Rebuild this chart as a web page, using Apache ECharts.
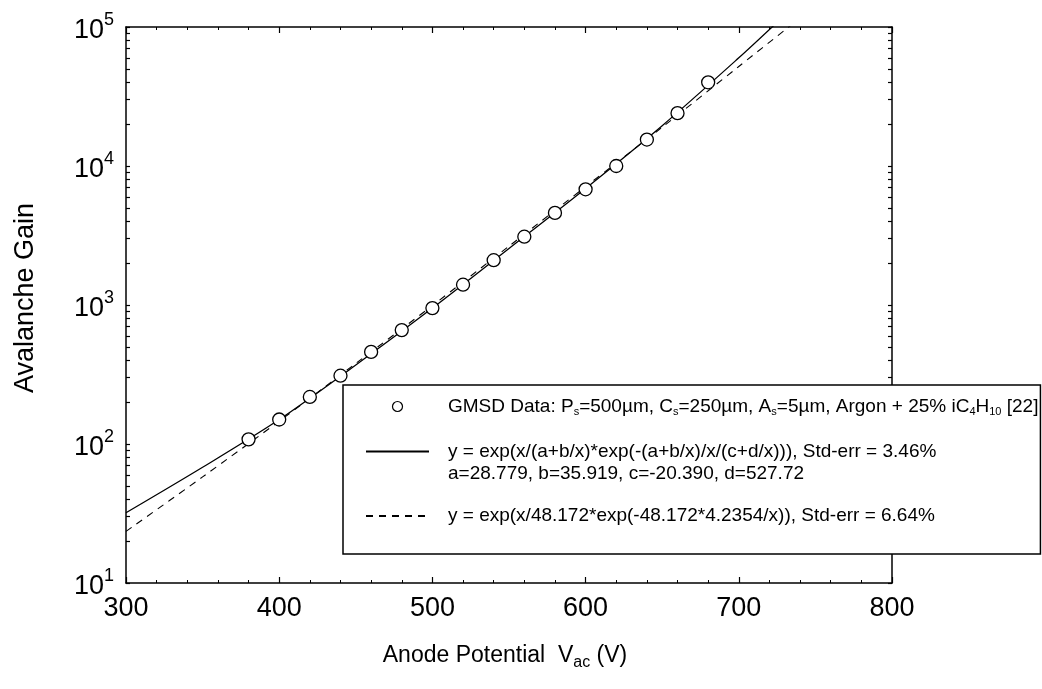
<!DOCTYPE html>
<html>
<head>
<meta charset="utf-8">
<title>Avalanche Gain vs Anode Potential</title>
<script src="https://cdn.jsdelivr.net/npm/echarts@6/dist/echarts.min.js"></script>
<style>
  html, body { margin: 0; padding: 0; background: #fff; }
  #chart { width: 1042px; height: 689px; }
</style>
</head>
<body>
<div id="chart"></div>
<script>
// GMSD measurements (anode potential in V, gain)
var gmsdVolts = [380, 400, 420, 440, 460, 480, 500, 520, 540, 560, 580, 600, 620, 640, 660, 680];
var gmsdGain = [108, 150, 218, 310, 460, 660, 950, 1400, 2100, 3100, 4600, 6800, 10000, 15500, 24000, 40000];

// solid fit curve
var fitVolts = [300, 350, 400, 450, 500, 550, 600, 650, 700, 725];
var fitGain = [32, 68, 150, 370, 950, 2550, 6900, 19500, 60000, 108000];

// dashed fit curve
var expVolts = [300, 350, 400, 450, 500, 550, 600, 650, 700, 735];
var expGain = [23.5, 58, 146, 380, 990, 2650, 7100, 19000, 52000, 105000];

var xTicks = [300, 400, 500, 600, 700, 800];
var yDecades = [10, 100, 1000, 10000, 100000];

var FONT = "'Liberation Sans', Arial, Helvetica, sans-serif";

function pairs(xs, ys) {
  var out = [];
  for (var i = 0; i < xs.length; i++) out.push([xs[i], ys[i]]);
  return out;
}

// log minor ticks 1..9 per decade
var yTickValues = [];
for (var i = 0; i < yDecades.length - 1; i++) {
  for (var k = 1; k < 10; k++) yTickValues.push(yDecades[i] * k);
}
yTickValues.push(yDecades[yDecades.length - 1]);

// blank lines ({sp}, {sp2}) keep the first text line level with the icon
var legendText = {
  data: '{t|GMSD Data: P}{sub|s}{t|=500µm, C}{sub|s}{t|=250µm, A}{sub|s}{t|=5µm, Argon + 25% iC}{sub|4}{t|H}{sub|10}{t| [22]}',
  fit1: '{sp| }\n{t|y = exp(x/(a+b/x)*exp(-(a+b/x)/x/(c+d/x))), Std-err = 3.46%}\n{t|a=28.779, b=35.919, c=-20.390, d=527.72}',
  fit2: '{sp2| }\n{t|y = exp(x/48.172*exp(-48.172*4.2354/x)), Std-err = 6.64%}\n{sp2| }'
};

var xMin = xTicks[0], xMax = xTicks[xTicks.length - 1];
var yMin = yDecades[0], yMax = yDecades[yDecades.length - 1];

function xAxisCfg(pos, showLabel) {
  return {
    type: 'value', position: pos, min: xMin, max: xMax, interval: 100,
    axisLine: { show: true, onZero: false, lineStyle: { color: '#000', width: 1.5 } },
    axisTick: { show: true, inside: true, length: 6, lineStyle: { color: '#000', width: 1.2 } },
    minorTick: { show: true, splitNumber: 5, length: 3, lineStyle: { color: '#000', width: 1 } },
    splitLine: { show: false },
    axisLabel: { show: showLabel, margin: 12, color: '#000', fontFamily: FONT, fontSize: 27 }
  };
}

function yAxisCfg(pos, showLabel) {
  return {
    type: 'log', logBase: 10, position: pos, min: yMin, max: yMax,
    axisLine: { show: true, onZero: false, lineStyle: { color: '#000', width: 1.5 } },
    axisTick: { show: true, inside: true, length: 4, customValues: yTickValues,
      lineStyle: { color: '#000', width: 1.2 } },
    splitLine: { show: false },
    axisLabel: {
      show: showLabel, margin: 12, color: '#000', padding: [8, 0, 0, 0],
      formatter: function (v) {
        return '{b|10}{s|' + Math.round(Math.log10(v)) + '}';
      },
      rich: {
        b: { fontFamily: FONT, fontSize: 27, lineHeight: 40, color: '#000' },
        s: { fontFamily: FONT, fontSize: 18, lineHeight: 18, verticalAlign: 'top', color: '#000' }
      }
    }
  };
}

var xBottom = xAxisCfg('bottom', true);
xBottom.name = '{n|Anode Potential  V}{sub|ac}{n| (V)}';
xBottom.nameLocation = 'middle';
xBottom.nameGap = 58;
xBottom.nameTextStyle = {
  padding: [0, 8, 0, 0],
  rich: {
    n: { fontFamily: FONT, fontSize: 23, lineHeight: 30, color: '#000' },
    sub: { fontFamily: FONT, fontSize: 16, lineHeight: 14, verticalAlign: 'bottom', color: '#000' }
  }
};

var yLeft = yAxisCfg('left', true);
yLeft.name = 'Avalanche Gain';
yLeft.nameLocation = 'middle';
yLeft.nameGap = 87;
yLeft.nameTextStyle = { fontFamily: FONT, fontSize: 27, color: '#000', padding: [0, 0, 0, 14] };

var option = {
  backgroundColor: '#fff',
  animation: false,
  grid: { left: 126, right: 150, top: 27, bottom: 106, outerBoundsMode: 'none' },
  xAxis: [xBottom, xAxisCfg('top', false)],
  yAxis: [yLeft, yAxisCfg('right', false)],
  legend: {
    left: 343, top: 385, orient: 'vertical',
    selectedMode: false,
    backgroundColor: '#fff',
    borderColor: '#000', borderWidth: 1.5, borderRadius: 0,
    padding: [12, 2, 12, 22],
    itemWidth: 63, itemHeight: 10, itemGap: 7,
    textStyle: {
      color: '#000', padding: [0, 0, 0, 14],
      rich: {
        t: { fontFamily: FONT, fontSize: 19, lineHeight: 22, color: '#000' },
        sub: { fontFamily: FONT, fontSize: 11, lineHeight: 10, verticalAlign: 'bottom', color: '#000' },
        sp: { fontSize: 10, lineHeight: 22 },
        sp2: { fontSize: 10, lineHeight: 20 }
      }
    },
    formatter: function (name) { return legendText[name]; },
    data: [
      { name: 'data', itemStyle: { color: '#fff', borderColor: '#000', borderWidth: 1.2 } },
      { name: 'fit1', itemStyle: { opacity: 0 } },
      { name: 'fit2', itemStyle: { opacity: 0 } }
    ]
  },
  series: [
    {
      name: 'fit1', type: 'line', smooth: 0.3, symbol: 'none', showSymbol: false,
      itemStyle: { color: '#000' },
      lineStyle: { color: '#000', width: 1.3 },
      data: pairs(fitVolts, fitGain), z: 2
    },
    {
      name: 'fit2', type: 'line', smooth: 0.3, symbol: 'none', showSymbol: false,
      itemStyle: { color: '#000' },
      lineStyle: { color: '#000', width: 1.1, type: [7, 6] },
      data: pairs(expVolts, expGain), z: 2
    },
    {
      name: 'data', type: 'scatter', symbol: 'circle', symbolSize: 13,
      itemStyle: { color: '#fff', borderColor: '#000', borderWidth: 1.3, opacity: 1 },
      data: pairs(gmsdVolts, gmsdGain), z: 3
    }
  ]
};

var myChart = echarts.init(document.getElementById('chart'));
myChart.setOption(option);
</script>
</body>
</html>
